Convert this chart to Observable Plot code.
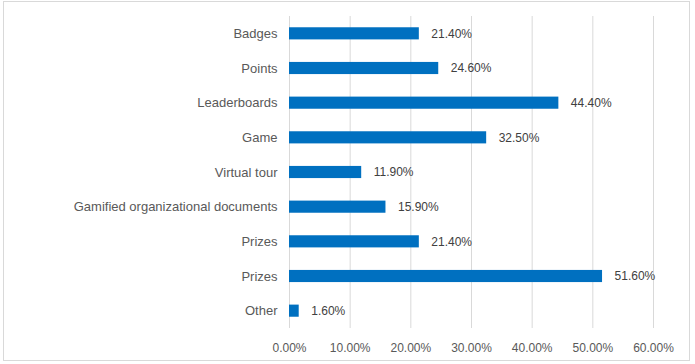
<!DOCTYPE html>
<html>
<head>
<meta charset="utf-8">
<script src="https://cdn.jsdelivr.net/npm/d3@7"></script>
<script src="https://cdn.jsdelivr.net/npm/@observablehq/plot@0.6"></script>
<style>
  html, body { margin: 0; padding: 0; background: #fff; }
  #wrap { position: relative; width: 695px; height: 364px; }
  #frame { position: absolute; left: 3px; top: 1px; width: 687px; height: 360px; border: 1px solid #d9d9d9; box-sizing: border-box; pointer-events: none; }
  svg { display: block; }
</style>
</head>
<body>
<div id="wrap"><div id="frame"></div></div>
<script>
const categories = ["Badges", "Points", "Leaderboards", "Game", "Virtual tour", "Gamified organizational documents", "Prizes", "Prizes", "Other"];
const values = [21.4, 24.6, 44.4, 32.5, 11.9, 15.9, 21.4, 51.6, 1.6];
const xTicks = [0, 10, 20, 30, 40, 50, 60];

const data = categories.map((c, i) => ({ key: i, label: c, value: values[i] }));
const fmt = v => v.toFixed(2) + "%";

const chart = Plot.plot({
  width: 695,
  height: 364,
  marginLeft: 289,
  marginRight: 42,
  marginTop: 16,
  marginBottom: 36,
  style: { fontFamily: "'Liberation Sans', Arial, sans-serif", fontSize: "12px", color: "#595959", background: "transparent" },
  x: { domain: [0, 60], ticks: xTicks, tickFormat: fmt, label: null, tickSize: 0, tickPadding: 15 },
  y: { domain: data.map(d => d.key), tickFormat: i => categories[i], label: null, tickSize: 0, tickPadding: 12, paddingInner: 0.65, paddingOuter: 0.325, round: false },
  marks: [
    Plot.gridX(xTicks, { stroke: "#d9d9d9", strokeOpacity: 1, strokeWidth: 1 }),
    Plot.axisY({ tickFormat: i => categories[i], tickSize: 0, tickPadding: 12, fontSize: 13, label: null }),
    Plot.barX(data, { x: "value", y: "key", fill: "#0070c0" }),
    Plot.text(data, { x: "value", y: "key", text: d => fmt(d.value), textAnchor: "start", dx: 12, fill: "#404040", fontSize: 12 })
  ]
});
document.getElementById("wrap").prepend(chart);
</script>
</body>
</html>
